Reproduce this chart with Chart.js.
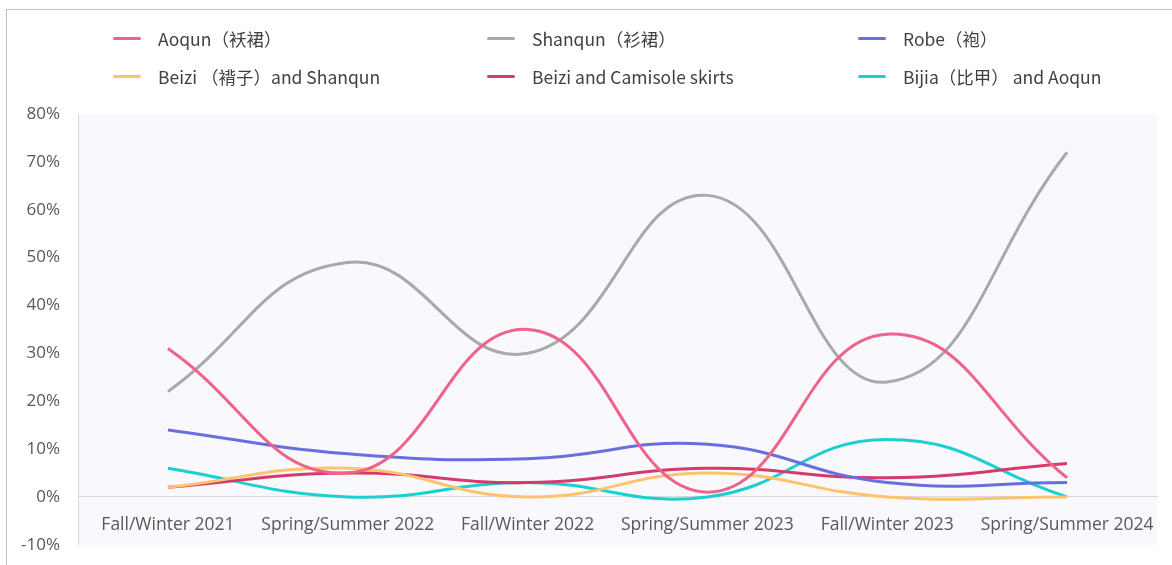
<!DOCTYPE html>
<html>
<head>
<meta charset="utf-8">
<script src="https://cdn.jsdelivr.net/npm/chart.js@4"></script>
<style>
  body { margin: 0; background: #fff; }
  #frame { position: absolute; left: 6px; top: 9px; width: 1200px; height: 600px; border: 1px solid #bfbfbf; }
  #box { position: absolute; left: 0; top: 0; width: 1172px; height: 565px; }
  #legend { position: absolute; left: 0; top: 0; width: 1172px; font-family: "Noto Sans CJK SC", "Noto Sans", sans-serif; font-size: 17.5px; color: #404040; }
  .item { position: absolute; display: flex; align-items: center; height: 24px; white-space: pre; }
  .swatch { width: 28px; height: 3px; margin-right: 17px; border-radius: 2px; }
</style>
</head>
<body>
<div id="frame"></div>
<div id="box"><canvas id="grafico"></canvas></div>
<div id="legend"></div>
<script>
// dados
const temporadas = ['Fall/Winter 2021', 'Spring/Summer 2022', 'Fall/Winter 2022', 'Spring/Summer 2023', 'Fall/Winter 2023', 'Spring/Summer 2024'];
const nomes = ['Aoqun（袄裙）', 'Shanqun（衫裙）', 'Robe（袍）', 'Beizi （褙子）and Shanqun', 'Beizi and Camisole skirts', 'Bijia（比甲） and Aoqun'];
const aoqun = [31, 5, 35, 1, 34, 4];
const shanqun = [22, 49, 30, 63, 24, 72];
const robe = [14, 9, 8, 11, 3, 3];
const beiziShanqun = [2, 6, 0, 5, 0, 0];
const beiziCamisole = [2, 5, 3, 6, 4, 7];
const bijia = [6, 0, 3, 0, 12, 0];
const cores = ['#ee6389', '#a9a9a9', '#6a6fdf', '#ffc36c', '#d63a6b', '#1ccfd0'];

const series = [aoqun, shanqun, robe, beiziShanqun, beiziCamisole, bijia];

const datasets = series.map(function (valores, i) {
    return {
        label: nomes[i],
        data: valores,
        borderColor: cores[i],
        backgroundColor: cores[i],
        borderWidth: 3,
        pointRadius: 0,
        tension: 0.45,
        fill: false
    };
});

// fundo da area do grafico
const fundo = {
    id: 'fundo',
    beforeDraw(chart) {
        const { ctx, chartArea: { left, right, top, bottom } } = chart;
        ctx.save();
        ctx.fillStyle = '#f8f8fd';
        ctx.fillRect(left, top, right - left, bottom - top);
        ctx.restore();
    }
};

const chart = new Chart(document.getElementById('grafico'), {
    type: 'line',
    data: { labels: temporadas, datasets: datasets },
    options: {
        responsive: true,
        maintainAspectRatio: false,
        animation: false,
        layout: { padding: { top: 114, right: 15, left: 0, bottom: 16 } },
        plugins: { legend: { display: false }, tooltip: { enabled: false } },
        scales: {
            x: {
                position: { y: 0 },
                offset: true,
                grid: { display: false },
                border: { color: '#d9d9d9', width: 1 },
                afterFit: function (scale) { scale.height = 0; },
                ticks: { color: '#595959', padding: 10, maxRotation: 0, font: { family: 'Open Sans', size: 17.5 } }
            },
            y: {
                min: -10,
                max: 80,
                grid: { display: false },
                border: { color: '#d9d9d9', width: 1 },
                afterFit: function (scale) { scale.width = 78; },
                ticks: {
                    stepSize: 10,
                    color: '#595959',
                    padding: 10,
                    font: { family: 'Open Sans', size: 17 },
                    callback: function (v) { return v + '%'; }
                }
            }
        }
    },
    plugins: [fundo]
});

// legenda em 3 colunas
const legenda = document.getElementById('legend');
const colX = [113, 487, 858];
const rowY = [26, 64];
nomes.forEach(function (nome, i) {
    const div = document.createElement('div');
    div.className = 'item';
    div.style.left = colX[i % 3] + 'px';
    div.style.top = rowY[Math.floor(i / 3)] + 'px';
    const s = document.createElement('span');
    s.className = 'swatch';
    s.style.background = cores[i];
    div.appendChild(s);
    const t = document.createElement('span');
    t.textContent = nome;
    div.appendChild(t);
    legenda.appendChild(div);
});
</script>
</body>
</html>
